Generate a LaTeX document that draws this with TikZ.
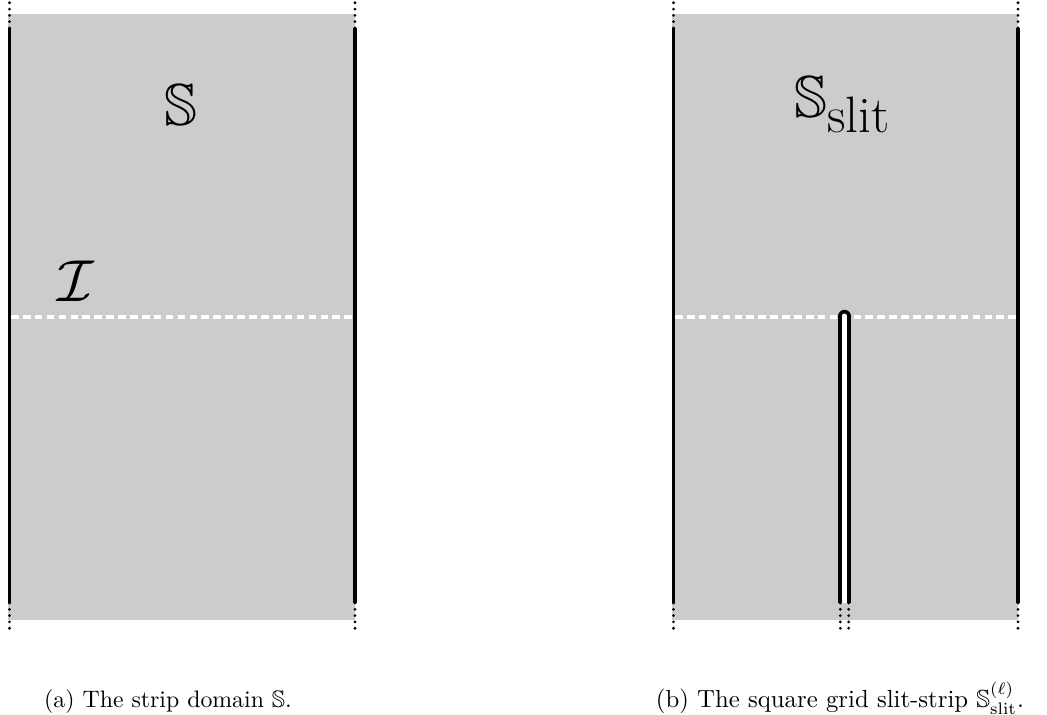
\documentclass[tikz,border=0pt]{standalone}
\usepackage{amssymb}
\begin{document}
\begin{tikzpicture}[x=0.42pt,y=-0.42pt,
  region/.style={fill=black!20,draw=none},
  wall/.style={line width=1.5pt,black},
  dotwall/.style={line width=1.3pt,black,line cap=round,dash pattern=on 0pt off 2.65pt},
  cutline/.style={white,line width=1.4pt,dash pattern=on 3.2pt off 1.8pt},
  caption/.style={inner sep=0pt,anchor=base}]
\useasboundingbox (0,0) rectangle (1047,715);
% left panel
\fill[region] (8,14) rectangle (355,620);
\coordinate (aTL) at (9.5,28); \coordinate (aBL) at (9.5,603);
\coordinate (aTR) at (355,28); \coordinate (aBR) at (355,603);
\coordinate (aTLd) at (9.5,2); \coordinate (aBLd) at (9.5,633);
\coordinate (aTRd) at (355,2); \coordinate (aBRd) at (355,633);
\draw[wall] (aTL) -- (aBL);
\draw[wall] (aTR) -- (aBR);
\draw[dotwall] (aTL) -- (aTLd);
\draw[dotwall] (aBL) -- (aBLd);
\draw[dotwall] (aTR) -- (aTRd);
\draw[dotwall] (aBR) -- (aBRd);
\coordinate (aIL) at (11,317); \coordinate (aIR) at (353,317);
\draw[cutline] (aIL) -- (aIR);
\node[inner sep=0pt,anchor=base] (S) at (181,125) {\Huge $\mathbb{S}$};
\node[inner sep=0pt,anchor=base] (I) at (76,301) {\Huge $\mathcal{I}$};
% right panel
\fill[region] (672,14) rectangle (1018,620);
\coordinate (bTL) at (673.5,28); \coordinate (bBL) at (673.5,603);
\coordinate (bTR) at (1018,28); \coordinate (bBR) at (1018,603);
\coordinate (bTLd) at (673.5,2); \coordinate (bBLd) at (673.5,633);
\coordinate (bTRd) at (1018,2); \coordinate (bBRd) at (1018,633);
\draw[wall] (bTL) -- (bBL);
\draw[wall] (bTR) -- (bBR);
\draw[dotwall] (bTL) -- (bTLd);
\draw[dotwall] (bBL) -- (bBLd);
\draw[dotwall] (bTR) -- (bTRd);
\draw[dotwall] (bBR) -- (bBRd);
\coordinate (bIL) at (675,317); \coordinate (bIR) at (1016,317);
\draw[cutline] (bIL) -- (bIR);
% slit
\coordinate (sT) at (844.5,316); \coordinate (sM) at (844.5,340); \coordinate (sB) at (844.5,603);
\draw[line width=5.2pt,black,line cap=round] (sT) -- (sM);
\draw[line width=5.2pt,black] (sM) -- (sB);
\draw[line width=2.1pt,white,line cap=round] (sT) -- (sM);
\draw[line width=2.1pt,white] (sM) -- (sB);
\coordinate (sL) at (840.3,603); \coordinate (sR) at (848.7,603);
\coordinate (sLd) at (840.3,633); \coordinate (sRd) at (848.7,633);
\draw[dotwall] (sL) -- (sLd);
\draw[dotwall] (sR) -- (sRd);
\node[inner sep=0pt,anchor=base west] (Sslit) at (794,117) {\Huge $\mathbb{S}_{\mbox{\fontsize{21.5}{22}\selectfont slit}}$};
% captions
\node[caption] (capa) at (168,707) {(a) The strip domain $\mathbb{S}$.};
\node[caption] (capb) at (840,707) {\fontsize{10.4}{12}\selectfont (b) The square grid slit-strip $\mathbb{S}^{(\ell)}_{\mathrm{slit}}$.};
\end{tikzpicture}
\end{document}
